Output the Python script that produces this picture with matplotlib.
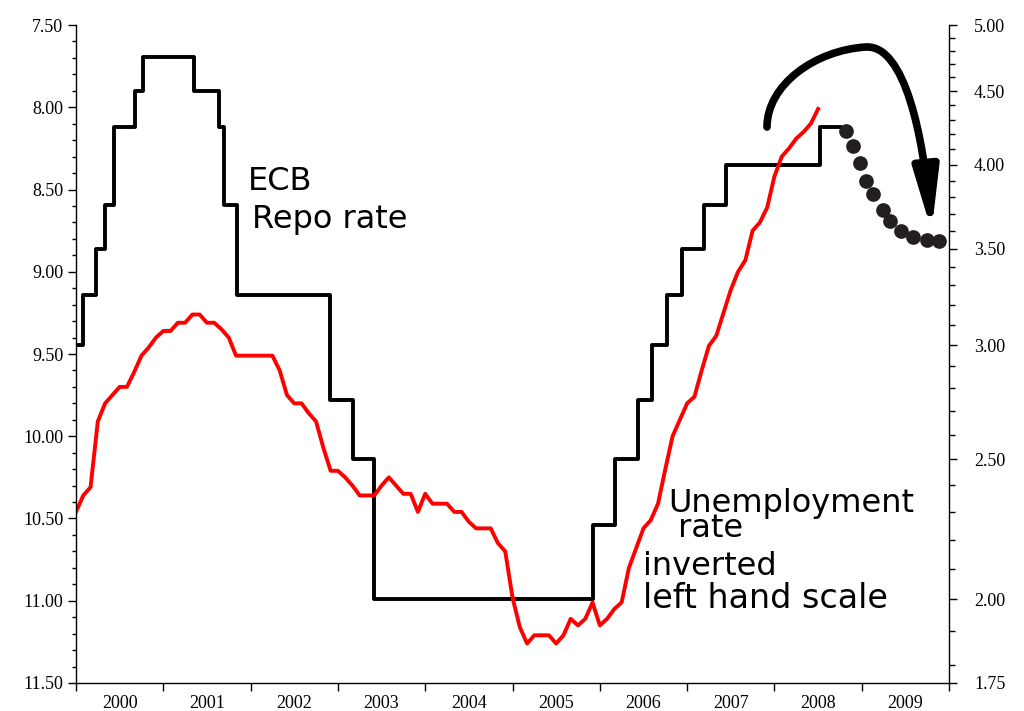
import matplotlib
matplotlib.use('Agg')
import matplotlib.pyplot as plt
from matplotlib.path import Path
from matplotlib.patches import FancyArrowPatch
from matplotlib.ticker import FixedLocator, FormatStrFormatter, MultipleLocator, NullFormatter

# x axis: decimal years
year_labels = ['2000', '2001', '2002', '2003', '2004', '2005', '2006', '2007', '2008', '2009']
year_starts = [2000, 2001, 2002, 2003, 2004, 2005, 2006, 2007, 2008, 2009, 2010]

# unemployment rate, monthly from Jan 2000 (left scale, inverted)
unemployment = [
    10.46, 10.36, 10.31, 9.91, 9.80, 9.75, 9.70, 9.70, 9.61, 9.51, 9.46, 9.40,
    9.36, 9.36, 9.31, 9.31, 9.26, 9.26, 9.31, 9.31, 9.35, 9.40, 9.51, 9.51,
    9.51, 9.51, 9.51, 9.51, 9.60, 9.75, 9.80, 9.80, 9.86, 9.91, 10.07, 10.21,
    10.21, 10.25, 10.30, 10.36, 10.36, 10.36, 10.30, 10.25, 10.30, 10.35, 10.35, 10.46,
    10.35, 10.41, 10.41, 10.41, 10.46, 10.46, 10.52, 10.56, 10.56, 10.56, 10.65, 10.70,
    10.98, 11.16, 11.26, 11.21, 11.21, 11.21, 11.26, 11.21, 11.11, 11.15, 11.11, 11.01,
    11.15, 11.11, 11.05, 11.01, 10.80, 10.68, 10.56, 10.51, 10.41, 10.20, 10.00, 9.90,
    9.80, 9.76, 9.60, 9.45, 9.39, 9.25, 9.11, 9.00, 8.93, 8.75, 8.70, 8.61,
    8.42, 8.30, 8.25, 8.19, 8.15, 8.10, 8.01,
]
unemp_dates = [2000 + i / 12 for i in range(len(unemployment))]

# ECB repo rate (right scale), change dates and new level
ecb_dates = [2000.00, 2000.08, 2000.23, 2000.33, 2000.44, 2000.68, 2000.77, 2001.35,
             2001.64, 2001.70, 2001.84, 2002.91, 2003.17, 2003.41, 2005.92, 2006.17,
             2006.44, 2006.60, 2006.77, 2006.94, 2007.19, 2007.45, 2008.52, 2008.75]
ecb_rates = [3.00, 3.25, 3.50, 3.75, 4.25, 4.50, 4.75, 4.50,
             4.25, 3.75, 3.25, 2.75, 2.50, 2.00, 2.25, 2.50,
             2.75, 3.00, 3.25, 3.50, 3.75, 4.00, 4.25, 4.25]

# expected path (dots)
forecast_dates = [2008.82, 2008.90, 2008.98, 2009.05, 2009.13, 2009.24, 2009.32,
                  2009.45, 2009.59, 2009.75, 2009.89]
forecast_rates = [4.22, 4.12, 4.01, 3.90, 3.82, 3.72, 3.66, 3.60, 3.565, 3.55, 3.545]

right_major = [1.75, 2.00, 2.50, 3.00, 3.50, 4.00, 4.50, 5.00]
right_minor = [1.8, 1.9, 2.1, 2.2, 2.3, 2.4, 2.6, 2.7, 2.8, 2.9, 3.1, 3.2, 3.3, 3.4,
               3.6, 3.7, 3.8, 3.9, 4.1, 4.2, 4.3, 4.4, 4.6, 4.7, 4.8, 4.9]

plt.rcParams['font.family'] = 'Liberation Serif'
hand = 'DejaVu Sans'

fig = plt.figure(figsize=(10.24, 7.11), dpi=100)
ax = fig.add_axes([0.0742, 0.0394, 0.8526, 0.9254])
ax2 = ax.twinx()

# unemployment (left, inverted)
ax.plot(unemp_dates, unemployment, color='#ff0000', lw=2.8, solid_joinstyle='round')
ax.set_ylim(11.5, 7.5)
ax.yaxis.set_major_locator(MultipleLocator(0.5))
ax.yaxis.set_minor_locator(MultipleLocator(0.1))
ax.yaxis.set_major_formatter(FormatStrFormatter('%.2f'))

# ECB repo rate (right, log scale)
ax2.step(ecb_dates, ecb_rates, where='post', color='black', lw=2.8)
ax2.scatter(forecast_dates, forecast_rates, s=112, color='#231f20', zorder=3,
            clip_on=False, linewidths=0)
ax2.set_yscale('log')
ax2.set_ylim(1.75, 5.0)
ax2.yaxis.set_major_locator(FixedLocator(right_major))
ax2.yaxis.set_minor_locator(FixedLocator(right_minor))
ax2.yaxis.set_major_formatter(FormatStrFormatter('%.2f'))
ax2.yaxis.set_minor_formatter(NullFormatter())

# x axis
ax.set_xlim(2000, 2010)
ax.xaxis.set_major_locator(FixedLocator(year_starts))
ax.xaxis.set_minor_locator(FixedLocator([y + 0.5 for y in year_starts[:-1]]))
ax.xaxis.set_major_formatter(NullFormatter())
ax.xaxis.set_minor_formatter(plt.FixedFormatter(year_labels))

ax.set_zorder(ax2.get_zorder() + 1)
ax.patch.set_visible(False)

for a in (ax, ax2):
    a.spines['top'].set_visible(False)
    for s in a.spines.values():
        s.set_linewidth(1.0)
ax.spines['right'].set_visible(False)
ax2.spines['left'].set_visible(False)
ax2.spines['bottom'].set_visible(False)

ax.tick_params(axis='y', which='major', direction='out', length=6, width=1, labelsize=13, pad=3)
ax.tick_params(axis='y', which='minor', direction='out', length=3, width=1)
ax2.tick_params(axis='y', which='major', direction='out', length=6, width=1, labelsize=13, pad=12)
ax2.tick_params(axis='y', which='minor', direction='out', length=4, width=1)
ax.tick_params(axis='x', which='major', direction='out', length=6, width=1)
ax.tick_params(axis='x', which='minor', length=0, labelsize=13, pad=9)

# hand-drawn style arrow
verts = [(0.7915, 0.845), (0.7915, 0.909), (0.8465, 0.962), (0.905, 0.9666),
         (0.9496, 0.9696), (0.9705, 0.83), (0.9800, 0.687)]
codes = [Path.MOVETO, Path.CURVE4, Path.CURVE4, Path.CURVE4,
         Path.CURVE4, Path.CURVE4, Path.CURVE4]
arrow = FancyArrowPatch(path=Path(verts, codes),
                        arrowstyle='-|>,head_length=36,head_width=7.5',
                        mutation_scale=1, lw=5.5, color='black',
                        transform=ax2.transAxes, clip_on=False)
ax2.add_patch(arrow)

# labels
tk = dict(transform=ax.transAxes, family=hand, fontsize=23, color='black', va='baseline')
ax.text(0.197, 0.749, 'ECB', **tk)
ax.text(0.2016, 0.6915, 'Repo rate', **tk)
ax.text(0.678, 0.222, 'Unemployment\n rate', linespacing=0.75, **tk)
ax.text(0.6495, 0.164, 'inverted', **tk)
ax.text(0.6495, 0.114, 'left hand scale', fontsize=24, **{k: v for k, v in tk.items() if k != 'fontsize'})

fig.savefig('out.png', dpi=100)
